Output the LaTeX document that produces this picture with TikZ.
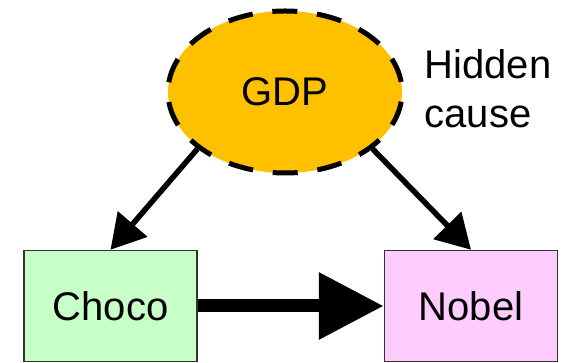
\documentclass[tikz,border=0pt]{standalone}
\usepackage{fontspec}
\setmainfont{Liberation Sans}
\usetikzlibrary{shapes.geometric,arrows.meta}
\definecolor{gdpfill}{RGB}{255,192,0}
\definecolor{chocofill}{RGB}{200,255,200}
\definecolor{nobelfill}{RGB}{255,204,255}
\definecolor{boxline}{RGB}{50,50,50}
\tikzset{
  bigtext/.style={font=\fontsize{40}{49}\selectfont},
  hidden/.style={ellipse, draw=black, fill=gdpfill, line width=5pt,
    dash pattern=on 25pt off 19.8pt, dash phase=34.7pt,
    minimum width=234pt, minimum height=162pt, inner sep=0pt, bigtext},
  varbox/.style={rectangle, draw=boxline, line width=1.5pt,
    minimum width=173pt, minimum height=111pt, inner sep=0pt, bigtext},
  causal/.style={line width=5.5pt, -{Triangle[length=34pt,width=38pt]}},
  mainlink/.style={line width=13pt, -{Triangle[length=65pt,width=64pt]}}
}
\begin{document}
\begin{tikzpicture}[x=1pt,y=1pt]
  \useasboundingbox (0,0) rectangle (562,363);
  \node[hidden] (gdp) at (285,271) {GDP};
  % base anchor sits on the last line's baseline
  \node[bigtext, align=left, anchor=base west] (note) at (421,235) {Hidden\\cause};
  \node[varbox, fill=chocofill] (choco) at (110.5,57) {Choco};
  \node[varbox, fill=nobelfill] (nobel) at (471,57) {Nobel};
  \draw[causal] (gdp.213) -- (choco.north);
  \draw[causal] (gdp.-33) -- (nobel.north);
  \draw[mainlink] (choco.east) -- (nobel.west);
\end{tikzpicture}
\end{document}
